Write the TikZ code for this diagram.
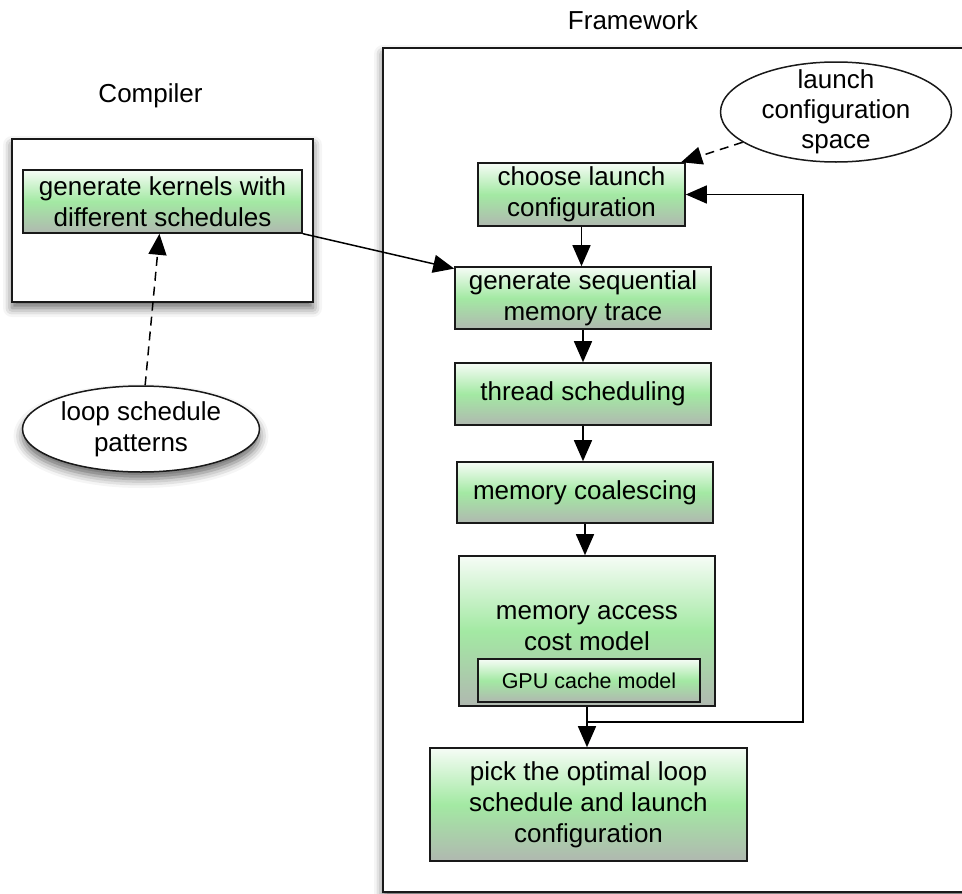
\documentclass[tikz,border=0pt]{standalone}
\usepackage{fontspec}
\setmainfont{Liberation Sans}
\usetikzlibrary{shapes.geometric,arrows.meta,shadows.blur}

\definecolor{gtop}{RGB}{246,252,246}
\definecolor{gmid}{RGB}{163,233,163}
\definecolor{gbot}{RGB}{176,184,176}

\tikzset{
  bigtext/.style={font=\fontsize{26}{31}\selectfont},
  titletext/.style={font=\fontsize{26}{31}\selectfont, inner sep=0pt},
  stagebox/.style={rectangle, draw=black!90, line width=1.6pt, inner sep=0pt,
    align=center, bigtext, top color=gtop, bottom color=gbot, middle color=gmid},
  container/.style={rectangle, draw=black!90, line width=1.6pt, fill=white, inner sep=0pt,
    blur shadow={shadow xshift=0pt, shadow yshift=-6pt, shadow blur radius=9pt, shadow opacity=60}},
  inputshape/.style={ellipse, draw=black!90, line width=1.5pt, fill=white, inner sep=0pt},
  labeltext/.style={align=center, bigtext, inner sep=0pt},
  flow/.style={line width=1.5pt, draw=black, -{Triangle[length=21pt,width=18pt]}},
  dashflow/.style={flow, dash pattern=on 9pt off 6pt},
}

\begin{document}
\begin{tikzpicture}[x=1pt,y=-1pt]
\useasboundingbox (0,0) rectangle (962,894);
\clip (0,0) rectangle (962,894);

% group titles
\node[titletext] (comptitle) at (150.5,96) {Compiler};
\node[titletext] (fwtitle) at (633,20) {Framework};

% group frames
\node[container, minimum width=301pt, minimum height=163pt] (compbox) at (162.5,220.5) {};
\node[container, minimum width=592pt, minimum height=844pt] (frame) at (679,470) {};

% compiler stage
\node[stagebox, minimum width=279pt, minimum height=63pt] (kern) at (162.5,201.5)
  {generate kernels with\\different schedules};

% input spaces
\node[inputshape, blur shadow={shadow xshift=0pt, shadow yshift=-7pt, shadow blur radius=9pt, shadow opacity=60},
  minimum width=237pt, minimum height=86pt] (lsp) at (141,429) {};
\node[labeltext] (lsptext) at (141,429) {loop schedule\\patterns};
\node[inputshape, minimum width=231pt, minimum height=100pt] (lcs) at (836,112) {};
\node[labeltext, font=\fontsize{26}{30}\selectfont] (lcstext) at (836,112) {launch\\configuration\\space};

% framework pipeline
\node[stagebox, minimum width=207pt, minimum height=63pt] (choose) at (581.5,194.5)
  {choose launch\\configuration};
\node[stagebox, minimum width=256pt, minimum height=62pt] (seq) at (583,298)
  {generate sequential\\memory trace};
\node[stagebox, minimum width=256pt, minimum height=62pt] (thread) at (583,394)
  {thread scheduling};
\node[stagebox, minimum width=256pt, minimum height=61pt] (coal) at (585,492.5)
  {memory coalescing};
\node[stagebox, minimum width=256pt, minimum height=150pt] (cost) at (587,631) {};
\node[labeltext] (costtext) at (587,628) {memory access\\cost model};
\node[stagebox, font=\fontsize{21.5}{26}\selectfont, minimum width=222pt, minimum height=43pt]
  (gpu) at (589,680.5) {GPU cache model};
\node[stagebox, minimum width=317pt, minimum height=113pt] (pick) at (588.5,804.5)
  {pick the optimal loop\\schedule and launch\\configuration};

% connectors
\draw[flow] (kern) -- (seq);
\draw[dashflow] (lsp) -- (kern);
\draw[dashflow] (lcs) -- (choose);
\draw[flow] (choose.south) -- (choose.south |- seq.north);
\draw[flow] (seq.south) -- (seq.south |- thread.north);
\draw[flow] (thread.south) -- (thread.south |- coal.north);
\draw[flow] (coal.south) -- (coal.south |- cost.north);
\draw[flow] (cost.south) -- (cost.south |- pick.north);
\coordinate (fbturn) at (803,722);
\draw[flow] (cost.south) |- (fbturn) |- (choose.east);
\end{tikzpicture}
\end{document}
